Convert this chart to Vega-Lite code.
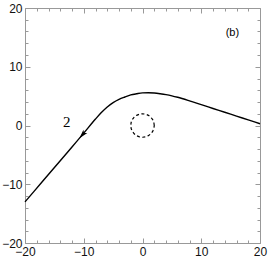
{
  "$schema": "https://vega.github.io/schema/vega-lite/v6.json",
  "width": 235,
  "height": 235,
  "autosize": {"type": "none"},
  "padding": {"left": 25, "top": 8, "right": 10, "bottom": 19},
  "config": {
    "view": {"stroke": "#999999", "strokeWidth": 1},
    "axis": {"labelFont": "Liberation Sans", "labelFontSize": 12, "labelColor": "#111111", "domain": false, "grid": false, "tickColor": "#999999"}
  },
  "datasets": {
    "curve": [
      {"x": -20, "y": -13.0}, {"x": -17, "y": -9.5}, {"x": -14, "y": -6.0}, {"x": -12, "y": -3.65},
      {"x": -10, "y": -1.3}, {"x": -8, "y": 1.1}, {"x": -7, "y": 2.2}, {"x": -6, "y": 3.15},
      {"x": -5, "y": 3.9}, {"x": -4, "y": 4.45}, {"x": -3, "y": 4.85}, {"x": -2, "y": 5.2},
      {"x": -1, "y": 5.4}, {"x": 0, "y": 5.55}, {"x": 1, "y": 5.58}, {"x": 2, "y": 5.52},
      {"x": 3, "y": 5.4}, {"x": 4, "y": 5.25}, {"x": 5, "y": 5.05}, {"x": 6, "y": 4.8},
      {"x": 8, "y": 4.2}, {"x": 10, "y": 3.55}, {"x": 12, "y": 2.9}, {"x": 14, "y": 2.25},
      {"x": 16, "y": 1.6}, {"x": 18, "y": 0.95}, {"x": 20, "y": 0.3}
    ],
    "circle": [
      {"i": 0, "x": 2, "y": 0}, {"i": 1, "x": 1.932, "y": 0.518}, {"i": 2, "x": 1.732, "y": 1},
      {"i": 3, "x": 1.414, "y": 1.414}, {"i": 4, "x": 1, "y": 1.732}, {"i": 5, "x": 0.518, "y": 1.932},
      {"i": 6, "x": 0, "y": 2}, {"i": 7, "x": -0.518, "y": 1.932}, {"i": 8, "x": -1, "y": 1.732},
      {"i": 9, "x": -1.414, "y": 1.414}, {"i": 10, "x": -1.732, "y": 1}, {"i": 11, "x": -1.932, "y": 0.518},
      {"i": 12, "x": -2, "y": 0}, {"i": 13, "x": -1.932, "y": -0.518}, {"i": 14, "x": -1.732, "y": -1},
      {"i": 15, "x": -1.414, "y": -1.414}, {"i": 16, "x": -1, "y": -1.732}, {"i": 17, "x": -0.518, "y": -1.932},
      {"i": 18, "x": 0, "y": -2}, {"i": 19, "x": 0.518, "y": -1.932}, {"i": 20, "x": 1, "y": -1.732},
      {"i": 21, "x": 1.414, "y": -1.414}, {"i": 22, "x": 1.732, "y": -1}, {"i": 23, "x": 1.932, "y": -0.518},
      {"i": 24, "x": 2, "y": 0}
    ],
    "arrow": [{"x": -10.2, "y": -1.55}],
    "labels": [
      {"x": -12.9, "y": 0.6, "text": "2", "kind": "serif"},
      {"x": 15.3, "y": 15.7, "text": "(b)", "kind": "sans"}
    ]
  },
  "layer": [
    {
      "data": {"name": "curve"},
      "mark": {"type": "line", "color": "black", "strokeWidth": 1.4, "interpolate": "monotone"},
      "encoding": {
        "x": {"field": "x", "type": "quantitative", "scale": {"domain": [-20, 20], "nice": false}, "title": null,
          "axis": {"orient": "bottom", "values": [-20,-18,-16,-14,-12,-10,-8,-6,-4,-2,0,2,4,6,8,10,12,14,16,18,20],
            "labelExpr": "datum.value % 10 === 0 ? datum.label : ''",
            "tickSize": {"condition": {"test": "datum.value % 10 === 0", "value": -5}, "value": -3},
            "labelPadding": 8, "labelBound": false, "labelFlush": false, "labelOverlap": false}},
        "y": {"field": "y", "type": "quantitative", "scale": {"domain": [-20, 20], "nice": false}, "title": null,
          "axis": {"orient": "left", "values": [-20,-18,-16,-14,-12,-10,-8,-6,-4,-2,0,2,4,6,8,10,12,14,16,18,20],
            "labelExpr": "datum.value % 10 === 0 ? datum.label : ''",
            "tickSize": {"condition": {"test": "datum.value % 10 === 0", "value": -5}, "value": -3},
            "labelPadding": 8, "labelBound": false, "labelFlush": false, "labelOverlap": false}}
      }
    },
    {
      "data": {"name": "circle"},
      "mark": {"type": "line", "color": "black", "strokeWidth": 1.2, "strokeDash": [3, 2.5]},
      "encoding": {
        "x": {"field": "x", "type": "quantitative", "title": null,
          "axis": {"orient": "top", "values": [-20,-18,-16,-14,-12,-10,-8,-6,-4,-2,0,2,4,6,8,10,12,14,16,18,20],
            "labels": false,
            "tickSize": {"condition": {"test": "datum.value % 10 === 0", "value": -5}, "value": -3}}},
        "y": {"field": "y", "type": "quantitative", "title": null,
          "axis": {"orient": "right", "values": [-20,-18,-16,-14,-12,-10,-8,-6,-4,-2,0,2,4,6,8,10,12,14,16,18,20],
            "labels": false,
            "tickSize": {"condition": {"test": "datum.value % 10 === 0", "value": -5}, "value": -3}}},
        "order": {"field": "i", "type": "quantitative"}
      }
    },
    {
      "data": {"name": "arrow"},
      "mark": {"type": "point", "shape": "M0,-1L0.55,0.9L0,0.45L-0.55,0.9Z", "filled": true, "color": "black", "size": 90, "opacity": 1, "angle": 221},
      "encoding": {
        "x": {"field": "x", "type": "quantitative", "axis": null},
        "y": {"field": "y", "type": "quantitative", "axis": null}
      }
    },
    {
      "data": {"name": "labels"},
      "transform": [{"filter": "datum.kind === 'serif'"}],
      "mark": {"type": "text", "font": "Liberation Serif", "fontSize": 15, "color": "black"},
      "encoding": {
        "x": {"field": "x", "type": "quantitative", "axis": null},
        "y": {"field": "y", "type": "quantitative", "axis": null},
        "text": {"field": "text"}
      }
    },
    {
      "data": {"name": "labels"},
      "transform": [{"filter": "datum.kind === 'sans'"}],
      "mark": {"type": "text", "font": "Liberation Sans", "fontSize": 11, "color": "black"},
      "encoding": {
        "x": {"field": "x", "type": "quantitative", "axis": null},
        "y": {"field": "y", "type": "quantitative", "axis": null},
        "text": {"field": "text"}
      }
    }
  ],
  "resolve": {"axis": {"x": "independent", "y": "independent"}}
}
